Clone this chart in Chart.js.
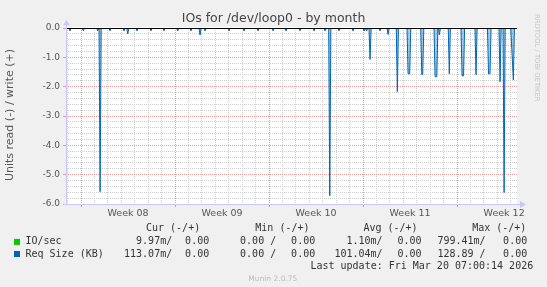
<!DOCTYPE html>
<html>
<head>
<meta charset="utf-8">
<script src="https://cdn.jsdelivr.net/npm/chart.js@4"></script>
<style>
  body { margin: 0; background: #f0f0f0; }
  canvas { display: block; }
</style>
</head>
<body>
<canvas id="ioChart" width="547" height="287"></canvas>
<script>
// time is in days since Monday of Week 08
var xMin = -1.12, xMax = 32.46, lastSample = 32.29;
var weekStart = 8;

// Req Size (KB), read side (drawn negative); zero between the listed samples
var reqTimes = [-0.82, 0.17, 1.24, 1.42, 2.16, 3.20, 3.48, 4.17, 5.21, 6.18, 7.20, 8.19, 8.86, 9.23,
  11.02, 12.14, 13.18, 14.30, 15.26, 16.31, 17.35, 18.17, 18.52, 19.21, 20.25, 21.07, 21.27, 21.52,
  22.26, 22.86, 23.55, 24.35, 24.47, 25.37, 25.44, 26.36, 26.49, 26.68, 27.42, 28.37, 28.48, 29.41,
  30.34, 30.45, 31.20, 31.50, 32.07, 32.19];
var reqValues = [-0.1, -0.1, -0.1, -5.58, -0.1, -0.1, -0.2, -0.1, -0.1, -0.1, -0.1, -0.1, -0.24, -0.1,
  -0.1, -0.1, -0.1, -0.1, -0.1, -0.1, -0.1, -0.1, -5.72, -0.1, -0.1, -0.1, -0.1, -1.07,
  -0.1, -0.22, -2.17, -1.56, -1.56, -1.59, -1.59, -1.66, -1.66, -0.23, -1.56, -1.63, -1.63, -1.59,
  -1.56, -1.56, -1.83, -5.61, -0.69, -1.77];

// IO/sec is in the milli range: flat at zero on this scale
var ioTimes = [xMin, lastSample];
var ioValues = [0, 0];

var legendLabels = ['IO/sec', 'Req Size (KB)'];
var legendColors = ['#00cc00', '#0066b3'];
var curRead = ['9.97m', '113.07m'], curWrite = ['0.00', '0.00'];
var minRead = ['0.00', '0.00'], minWrite = ['0.00', '0.00'];
var avgRead = ['1.10m', '101.04m'], avgWrite = ['0.00', '0.00'];
var maxRead = ['799.41m', '128.89'], maxWrite = ['0.00', '0.00'];
var lastUpdate = 'Last update: Fri Mar 20 07:00:14 2026';

function spikePoints(times, values) {
  var pts = [{x: xMin, y: 0}];
  for (var i = 0; i < times.length; i++) {
    if (i == 0 || times[i] - times[i - 1] > 0.15) pts.push({x: times[i] - 0.08, y: 0});
    pts.push({x: times[i], y: values[i]});
    if (i == times.length - 1 || times[i + 1] - times[i] > 0.15) pts.push({x: times[i] + 0.08, y: 0});
  }
  pts.push({x: lastSample, y: 0});
  return pts;
}

var redGrid = 'rgba(225,120,120,0.75)';
var grayGrid = '#cfcfcf';

var munin = {
  id: 'munin',
  beforeDraw: function (chart) {
    var c = chart.ctx, a = chart.chartArea;
    c.save();
    c.fillStyle = '#ffffff';
    c.fillRect(a.left, a.top - 1, a.right - a.left, a.bottom - a.top + 1);
    c.restore();
  },
  afterDatasetsDraw: function (chart) {
    var c = chart.ctx, a = chart.chartArea;
    var y0 = Math.round(chart.scales.y.getPixelForValue(0)) + 0.5;
    c.save();
    c.strokeStyle = '#000';
    c.lineWidth = 1;
    c.beginPath(); c.moveTo(a.left, y0); c.lineTo(a.right, y0); c.stroke();
    // axes with arrows
    c.strokeStyle = '#c8c8ff';
    c.fillStyle = '#c8c8ff';
    c.beginPath(); c.moveTo(a.left + 0.5, a.bottom + 1); c.lineTo(a.left + 0.5, a.top - 4); c.stroke();
    c.beginPath(); c.moveTo(a.left - 3, a.top - 3); c.lineTo(a.left + 4, a.top - 3); c.lineTo(a.left + 0.5, a.top - 8); c.fill();
    c.beginPath(); c.moveTo(a.left - 2, a.bottom + 0.5); c.lineTo(a.right + 4, a.bottom + 0.5); c.stroke();
    c.beginPath(); c.moveTo(a.right + 3, a.bottom - 3); c.lineTo(a.right + 3, a.bottom + 4); c.lineTo(a.right + 9, a.bottom + 0.5); c.fill();

    // title and axis title
    c.fillStyle = '#444';
    c.font = '12.5px "DejaVu Sans"';
    c.textAlign = 'center'; c.textBaseline = 'middle';
    c.fillText('IOs for /dev/loop0 - by month', 273.5, 19);
    c.save();
    c.translate(10, 115); c.rotate(-Math.PI / 2);
    c.fillStyle = '#555';
    c.font = '11px "DejaVu Sans"';
    c.fillText('Units read (-) / write (+)', 0, 0);
    c.restore();
    c.save();
    c.translate(537, 14); c.rotate(Math.PI / 2);
    c.fillStyle = '#c4c4c4';
    c.font = '6.8px "DejaVu Sans"';
    c.textAlign = 'left';
    c.fillText('RRDTOOL / TOBI OETIKER', 0, 0);
    c.restore();

    // legend table
    c.font = '10px "DejaVu Sans Mono"';
    c.fillStyle = '#333';
    c.textAlign = 'left';
    c.fillText('Cur (-/+)', 146, 228.6);
    c.fillText('Min (-/+)', 255.3, 228.6);
    c.fillText('Avg (-/+)', 363.4, 228.6);
    c.fillText('Max (-/+)', 472.2, 228.6);
    var rowY = [241.9, 254];
    for (var i = 0; i < legendLabels.length; i++) {
      c.fillStyle = legendColors[i];
      c.fillRect(14, rowY[i] - 3, 6, 6);
      c.fillStyle = '#333';
      c.textAlign = 'left';
      c.fillText(legendLabels[i], 25.5, rowY[i]);
      c.textAlign = 'right';
      var cols = [[curRead, curWrite, 172.2, 209.2], [minRead, minWrite, 276.2, 315.2],
                  [avgRead, avgWrite, 382.6, 421.6], [maxRead, maxWrite, 485.6, 527.2]];
      cols.forEach(function (col) {
        var r = col[0][i];
        c.fillText(r + (/m$/.test(r) ? '/' : ' /'), col[2], rowY[i]);
        c.fillText(col[1][i], col[3], rowY[i]);
      });
    }
    c.textAlign = 'right';
    c.fillText(lastUpdate, 533.2, 266.3);
    c.textAlign = 'center';
    c.fillStyle = '#bbbbbb';
    c.font = '7.5px "DejaVu Sans"';
    c.fillText('Munin 2.0.75', 272.8, 279.5);
    c.restore();
  }
};

var ctx = document.getElementById('ioChart').getContext('2d');
var myChart = new Chart(ctx, {
  type: 'line',
  data: {
    datasets: [{
      label: 'Req Size (KB)',
      data: spikePoints(reqTimes, reqValues),
      borderColor: '#0066b3',
      backgroundColor: 'rgba(0,102,179,0.35)',
      borderWidth: 1,
      fill: 'origin',
      pointRadius: 0,
      tension: 0
    }, {
      label: 'IO/sec',
      data: ioTimes.map(function (t, i) { return {x: t, y: ioValues[i]}; }),
      borderColor: '#00cc00',
      borderWidth: 1,
      pointRadius: 0,
      fill: false
    }]
  },
  options: {
    responsive: false,
    devicePixelRatio: 1,
    animation: false,
    layout: { padding: { left: 0, top: 28, right: 30, bottom: 63 } },
    plugins: { legend: { display: false }, tooltip: { enabled: false } },
    scales: {
      x: {
        type: 'linear', min: xMin, max: xMax,
        afterFit: function (s) { s.height = 20; },
        afterBuildTicks: function (s) {
          var t = [];
          for (var d = -1; d <= 32; d++) t.push({value: d});
          for (var w = 3.5; w < 32; w += 7) t.push({value: w});
          s.ticks = t;
        },
        border: { display: false, dash: [1, 1] },
        grid: {
          color: function (c) {
            var v = c.tick.value;
            if (v % 7 == 0) return redGrid;
            if (Number.isInteger(v)) return grayGrid;
            return 'rgba(0,0,0,0)';
          },
          tickColor: function (c) { return c.tick.value % 7 == 0 ? redGrid : 'rgba(0,0,0,0)'; },
          tickLength: 3
        },
        ticks: {
          autoSkip: false, maxRotation: 0, padding: 1,
          color: '#555', font: { family: 'DejaVu Sans', size: 9.5 },
          callback: function (v) {
            if (Number.isInteger(v)) return '';
            var n = weekStart + (v - 3.5) / 7;
            return 'Week ' + (n < 10 ? '0' + n : n);
          }
        }
      },
      y: {
        min: -6, max: 0,
        afterFit: function (s) { s.width = 66; },
        border: { display: false, dash: [1, 1] },
        grid: {
          color: function (c) {
            var v = c.tick.value;
            return Math.abs(v - Math.round(v)) < 1e-6 ? redGrid : grayGrid;
          },
          tickColor: function (c) {
            var v = c.tick.value;
            return Math.abs(v - Math.round(v)) < 1e-6 ? redGrid : 'rgba(0,0,0,0)';
          },
          tickLength: 3
        },
        ticks: {
          stepSize: 0.2, autoSkip: false, padding: 3,
          color: '#555', font: { family: 'DejaVu Sans', size: 9 },
          callback: function (v) {
            return Math.abs(v - Math.round(v)) < 1e-6 ? Number(v).toFixed(1) : '';
          }
        }
      }
    }
  },
  plugins: [munin]
});
</script>
</body>
</html>
